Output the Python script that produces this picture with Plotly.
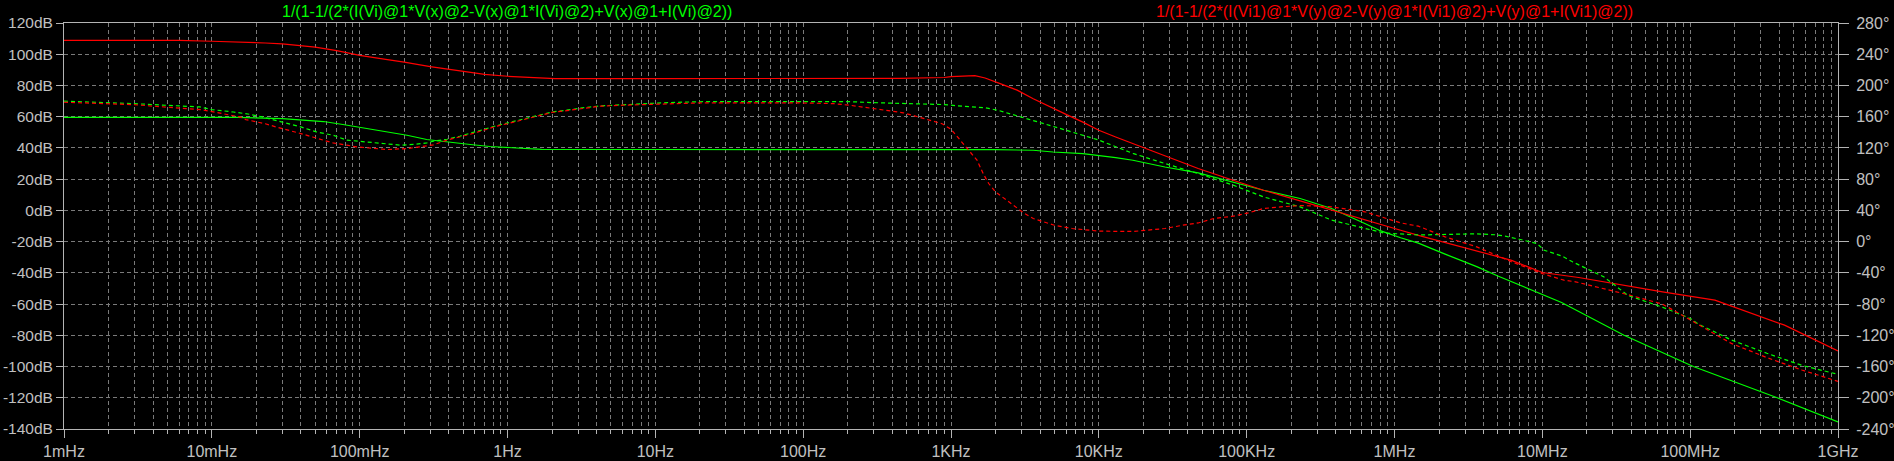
import plotly.graph_objects as go

# ---------------- axis ticks ----------------
freq_ticks = [1e-3, 1e-2, 1e-1, 1e0, 1e1, 1e2, 1e3, 1e4, 1e5, 1e6, 1e7, 1e8, 1e9]
freq_labels = ["1mHz", "10mHz", "100mHz", "1Hz", "10Hz", "100Hz", "1KHz",
               "10KHz", "100KHz", "1MHz", "10MHz", "100MHz", "1GHz"]
db_ticks = [-140, -120, -100, -80, -60, -40, -20, 0, 20, 40, 60, 80, 100, 120]
db_labels = ["-140dB", "-120dB", "-100dB", "-80dB", "-60dB", "-40dB", "-20dB",
             "0dB", "20dB", "40dB", "60dB", "80dB", "100dB", "120dB"]
deg_ticks = [-240, -200, -160, -120, -80, -40, 0, 40, 80, 120, 160, 200, 240, 280]
deg_labels = ["-240°", "-200°", "-160°", "-120°", "-80°", "-40°", "0°",
              "40°", "80°", "120°", "160°", "200°", "240°", "280°"]

# ---------------- trace names ----------------
green_name = "1/(1-1/(2*(I(Vi)@1*V(x)@2-V(x)@1*I(Vi)@2)+V(x)@1+I(Vi)@2))"
red_name = "1/(1-1/(2*(I(Vi1)@1*V(y)@2-V(y)@1*I(Vi1)@2)+V(y)@1+I(Vi1)@2))"

# ---------------- green expression: magnitude (dB) ----------------
green_mag_f = [1e-3, 1.5e-2, 3e-2, 5.7e-2, 7.7e-2, 0.112, 0.152, 0.209, 0.284, 0.398,
               0.56, 0.76, 1.2, 1.7, 10, 100, 1000, 2000, 3600, 4900, 7800, 1e4,
               1.3e4, 1.7e4, 2.8e4, 4.7e4, 8.1e4, 1.3e5, 2.3e5, 3.75e5, 6.3e5, 8e5,
               1.1e6, 1.45e6, 2.2e6, 3.6e6, 5e6, 1e7, 1.35e7, 3.57e7, 1.05e8, 3.88e8, 1e9]
green_mag_db = [59.5, 59.5, 58.8, 56.9, 55.0, 52.4, 50.3, 48.1, 45.4, 43.6,
                42.2, 40.9, 39.8, 39.1, 39.0, 39.0, 39.0, 38.9, 38.5, 37.4, 36.4, 35.3,
                33.8, 32.1, 27.8, 24.0, 18.2, 12.9, 7.6, 1.2, -8.4, -13.0,
                -17.5, -21.0, -28.0, -36.0, -42.0, -54.0, -59.0, -80.0, -100.0, -120.0, -135.5]

# ---------------- green expression: phase (deg) ----------------
green_ph_f = [1e-3, 2.9e-3, 8.3e-3, 1e-2, 1.4e-2, 1.8e-2, 2.2e-2, 2.6e-2, 3.2e-2, 4e-2,
              5.1e-2, 6.6e-2, 8.2e-2, 0.112, 0.137, 0.19, 0.24, 0.285, 0.315, 0.39,
              0.475, 0.56, 0.685, 0.85, 1.1, 1.43, 1.66, 2.0, 2.7, 3.3, 4.2, 6, 8, 12,
              22, 200, 300, 500, 900, 1200, 1700, 2100, 3600, 6000, 1e4, 1.7e4, 2.8e4,
              4.7e4, 8.1e4, 1.3e5, 2.3e5, 3.75e5, 6.3e5, 8.5e5, 1.45e6, 2.2e6, 3.6e6,
              4.9e6, 5.6e6, 7.1e6, 9.2e6, 1.03e7, 1.36e7, 1.6e7, 2.1e7, 2.6e7, 3.1e7,
              3.8e7, 6.5e7, 1e8, 1.12e8, 1.9e8, 3.3e8, 5.7e8, 1e9]
green_ph_deg = [180.0, 176.8, 172.5, 169.1, 166.0, 163.1, 159.7, 156.3, 152.0, 146.9,
                140.5, 136.3, 130.0, 127.3, 125.6, 123.5, 124.7, 126.4, 128.6, 131.1,
                135.0, 138.4, 143.5, 148.7, 153.8, 159.0, 162.7, 166.0, 169.1, 171.7, 173.8, 175.5, 176.5, 178.0,
                179.4, 179.4, 178.0, 176.8, 175.5, 173.4, 171.5, 168.0, 155.5, 142.7, 130.0, 113.0, 100.0,
                87.2, 72.3, 57.3, 44.5, 27.5, 17.0, 11.0, 8.5, 9.1, 10.0,
                8.7, 7.0, 2.7, -2.4, -11.0, -18.6, -25.9, -36.5, -45.0, -56.0,
                -69.0, -84.0, -98.4, -105.0, -126.0, -143.0, -158.5, -170.0]

# ---------------- red expression: magnitude (dB) ----------------
red_mag_f = [1e-3, 6e-3, 1e-2, 1.6e-2, 2.3e-2, 3e-2, 4e-2, 5e-2, 7e-2, 0.1, 0.15, 0.2,
             0.3, 0.4, 0.5, 0.7, 1, 1.5, 2.1, 10, 100, 450, 900, 1000, 1450, 1700,
             2150, 2800, 3600, 4600, 6000, 7800, 1e4, 1.3e4, 1.7e4, 2.8e4, 4.7e4,
             8.1e4, 1.3e5, 2.3e5, 3.75e5, 6.3e5, 1.1e6, 1.45e6, 2.2e6, 3.6e6, 6.2e6,
             1e7, 1.76e7, 6.5e7, 1.47e8, 4.35e8, 1e9]
red_mag_db = [108.9, 108.9, 108.3, 107.9, 107.2, 106.6, 105.5, 104.5, 102.3, 99.3, 96.7, 95.0,
              92.1, 90.3, 88.8, 87.1, 85.9, 85.1, 84.4, 84.4, 84.4, 84.5, 85.1, 85.7, 86.3, 84.8,
              81.2, 77.0, 71.5, 66.5, 61.5, 56.5, 51.3, 47.0, 42.8, 34.7, 26.8,
              19.3, 12.9, 6.1, 0.1, -6.3, -12.7, -16.0, -20.5, -26.0, -32.0,
              -39.8, -43.0, -52.2, -57.5, -73.5, -90.0]

# ---------------- red expression: phase (deg) ----------------
red_ph_f = [1e-3, 2.9e-3, 8.5e-3, 1.1e-2, 1.3e-2, 1.55e-2, 1.7e-2, 2e-2, 2.3e-2, 2.7e-2,
            3.2e-2, 4e-2, 4.8e-2, 5.7e-2, 6.6e-2, 8.2e-2, 9.5e-2, 0.123, 0.152, 0.21,
            0.255, 0.315, 0.39, 0.475, 0.56, 0.685, 0.85, 1.1, 1.43, 1.66, 2.0, 2.7,
            3.3, 4.2, 6, 10, 20, 95, 160, 210, 250, 340, 400, 475, 520, 580, 660, 770,
            870, 1000, 1280, 1500, 1650, 1800, 2000, 2300, 2600, 3100, 3600, 4200,
            5000, 6600, 1e4, 1.7e4, 2.2e4, 2.8e4, 3.7e4, 4.7e4, 6e4, 8.1e4, 1.03e5,
            1.3e5, 1.7e5, 2.3e5, 3e5, 3.75e5, 6.3e5, 1.1e6, 1.45e6, 2.2e6, 3.6e6,
            6.2e6, 1e7, 1.4e7, 1.68e7, 3.8e7, 6.5e7, 1e8, 1.9e8, 3.3e8, 5.7e8, 1e9]
red_ph_deg = [178.5, 175.5, 169.0, 165.0, 163.0, 159.7, 156.3, 153.3, 151.0, 147.0,
              143.5, 138.4, 134.0, 130.0, 126.4, 123.5, 121.3, 119.6, 117.9, 119.2,
              121.3, 123.9, 130.0, 134.0, 137.5, 142.5, 148.0, 153.0, 158.5, 162.0, 165.5, 168.5,
              171.0, 173.4, 174.7, 176.0, 177.6, 177.6, 176.8, 174.5, 172.5, 169.5, 167.0, 165.0, 163.0, 160.6, 157.6, 154.6,
              151.0, 144.0, 119.2, 104.3, 87.2, 74.4, 63.7, 55.2, 46.7, 36.8, 29.6, 25.3,
              21.0, 16.8, 13.4, 13.0, 14.6, 16.8, 21.0, 23.9, 29.6, 32.6, 36.8,
              42.4, 44.5, 46.2, 45.5, 44.5, 38.2, 24.0, 19.8, 6.1, -6.7,
              -25.9, -41.0, -49.4, -51.5, -68.0, -80.0, -100.5, -130.4, -148.5, -164.5, -179.0]

# ---------------- styling ----------------
GREEN = "#00ff00"
RED = "#ff0000"
FRAME = "#b4b4b4"
GRID = "#7a7a7a"
TEXT = "#c0c0c0"
DASH = "4px,3px"
FONT = "Liberation Sans, Arial, sans-serif"

minor_vals = [m * 10.0 ** e for e in range(-3, 9) for m in range(2, 10)]

fig = go.Figure()
fig.add_trace(go.Scatter(x=green_mag_f, y=green_mag_db, mode="lines", name=green_name,
                         line=dict(color=GREEN, width=1.2), yaxis="y"))
fig.add_trace(go.Scatter(x=green_ph_f, y=green_ph_deg, mode="lines", name=green_name + " phase",
                         line=dict(color=GREEN, width=1.2, dash="4px,3px"), yaxis="y2"))
fig.add_trace(go.Scatter(x=red_mag_f, y=red_mag_db, mode="lines", name=red_name,
                         line=dict(color=RED, width=1.2), yaxis="y"))
fig.add_trace(go.Scatter(x=red_ph_f, y=red_ph_deg, mode="lines", name=red_name + " phase",
                         line=dict(color=RED, width=1.2, dash="4px,3px"), yaxis="y2"))

fig.update_layout(
    width=1894, height=461,
    margin=dict(l=64, r=56, t=23, b=32, pad=0, autoexpand=False),
    paper_bgcolor="black", plot_bgcolor="black",
    showlegend=False,
    font=dict(family=FONT, size=16, color=TEXT),
    xaxis=dict(
        type="log", range=[-3, 9], automargin=False,
        tickmode="array", tickvals=freq_ticks, ticktext=freq_labels,
        ticks="outside", ticklen=8, tickwidth=1, tickcolor=FRAME,
        showline=True, linecolor=FRAME, linewidth=1, mirror=True,
        showgrid=True, gridcolor=GRID, gridwidth=1, griddash=DASH,
        zeroline=False,
        minor=dict(tickmode="array", tickvals=minor_vals, ticks="outside", ticklen=4,
                   tickcolor=FRAME, showgrid=True, gridcolor=GRID, gridwidth=1, griddash=DASH),
        tickfont=dict(family=FONT, size=16, color=TEXT),
    ),
    xaxis2=dict(
        type="log", range=[-3, 9], overlaying="x", side="top", automargin=False,
        tickmode="array", tickvals=minor_vals, ticks="inside", ticklen=4,
        tickcolor=FRAME, showticklabels=False, showgrid=False, showline=False,
        zeroline=False,
    ),
    yaxis=dict(
        range=[-140, 120], automargin=False,
        tickmode="array", tickvals=db_ticks, ticktext=db_labels,
        ticks="outside", ticklen=7, tickcolor=FRAME,
        showline=True, linecolor=FRAME, linewidth=1,
        showgrid=True, gridcolor=GRID, gridwidth=1, griddash=DASH,
        zeroline=False, ticklabelstandoff=0,
        tickfont=dict(family=FONT, size=15.5, color=TEXT),
    ),
    yaxis2=dict(
        range=[-240, 280], overlaying="y", side="right", automargin=False,
        tickmode="array", tickvals=deg_ticks, ticktext=deg_labels,
        ticks="outside", ticklen=10, tickcolor=FRAME,
        showline=True, linecolor=FRAME, linewidth=1,
        showgrid=False, zeroline=False, ticklabelstandoff=4,
        tickfont=dict(family=FONT, size=16, color=TEXT),
    ),
    annotations=[
        dict(text=green_name, xref="paper", yref="paper", x=0.2497, y=1.0,
             yshift=12, xanchor="center", yanchor="middle", showarrow=False,
             font=dict(family=FONT, size=16, color=GREEN)),
        dict(text=red_name, xref="paper", yref="paper", x=0.7498, y=1.0,
             yshift=12, xanchor="center", yanchor="middle", showarrow=False,
             font=dict(family=FONT, size=16, color=RED)),
    ],
)

fig.write_html("out.html", config={"displayModeBar": False},
               post_script="document.body.style.margin='0';document.body.style.overflow='hidden';")
